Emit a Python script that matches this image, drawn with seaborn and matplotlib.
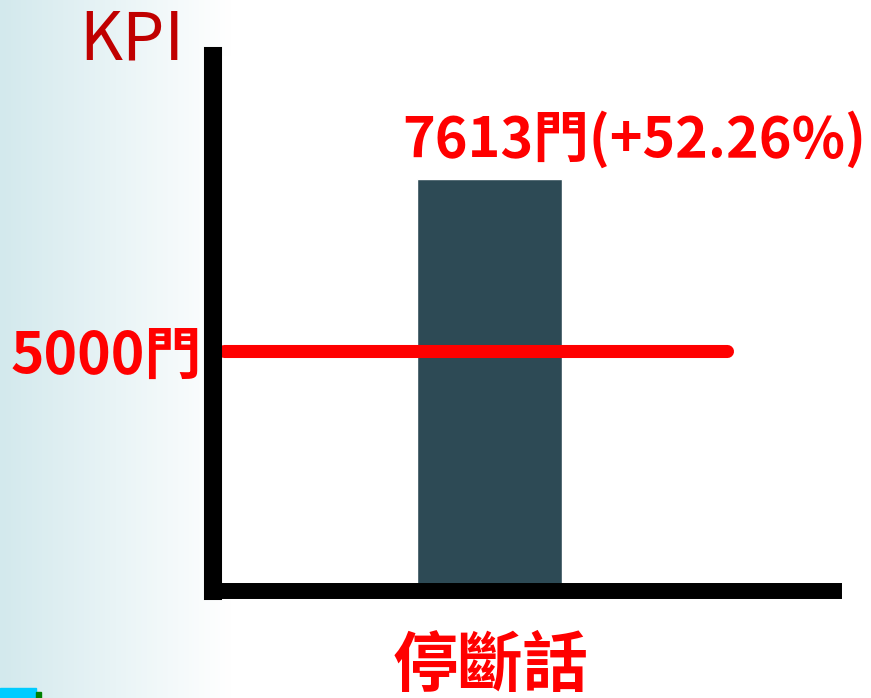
import numpy as np
import pandas as pd
import matplotlib.pyplot as plt
import seaborn as sns
from matplotlib.patches import Rectangle
from matplotlib.colors import to_rgb

# Data
categories = ["停斷話"]
values = [7613]
target = 5000
target_label = "5000門"
bar_label = "7613門(+52.26%)"
y_title = "KPI"

df = pd.DataFrame({"cat": categories, "val": values})

sns.set_theme(style="white")
plt.rcParams["font.family"] = ["Noto Sans CJK TC", "DejaVu Sans"]

W, H = 871, 698
fig = plt.figure(figsize=(W / 100, H / 100), dpi=100)

# background gradient (light blue on the left fading to white)
bg = fig.add_axes([0, 0, 1, 1], zorder=-10)
c0 = np.array(to_rgb("#d3e9ed"))
t = np.clip(np.arange(W) / 230.0, 0, 1)[None, :, None]
grad = c0 * (1 - t) + np.ones(3) * t
bg.imshow(np.repeat(grad, 2, axis=0), aspect="auto", extent=[0, 1, 0, 1])
bg.axis("off")
bg.add_patch(Rectangle((0, 0), 36 / W, 10 / H, color="#00ccff", transform=fig.transFigure))
bg.add_patch(Rectangle((36 / W, 0), 5 / W, 6 / H, color="#008000", transform=fig.transFigure))

# main axes, placed in pixels
left, right, bottom, top = 213, 834, 591, 56
ax = fig.add_axes([left / W, 1 - bottom / H, (right - left) / W, (bottom - top) / H])
ax.set_facecolor("white")

sns.barplot(data=df, x="cat", y="val", color="#2d4a55", width=0.8, saturation=1, ax=ax, zorder=1)

ax.set_ylim(1350, 9480)
ax.set_xlim(-1.528, 1.898)

ax.hlines(target, -1.465, 1.305, color="#ff0000", linewidth=9.4, capstyle="round", zorder=3)

for s in ["top", "right"]:
    ax.spines[s].set_visible(False)
ax.spines["left"].set_linewidth(13)
ax.spines["bottom"].set_linewidth(11.5)
for s in ["left", "bottom"]:
    ax.spines[s].set_color("black")
    ax.spines[s].set_capstyle("projecting")
    ax.spines[s].set_zorder(4)

ax.set_yticks([target])
ax.set_yticklabels([target_label], color="#ff0000", fontsize=41, fontweight="bold")
ax.set_xticks([0])
ax.set_xticklabels(categories, color="#ff0000", fontsize=47, fontweight="bold")
ax.tick_params(axis="y", length=0, pad=8)
ax.tick_params(axis="x", length=0, pad=30)
ax.set_xlabel("")
ax.set_ylabel("")

ax.annotate(bar_label, xy=(0, values[0]), xytext=(144, 39), textcoords="offset pixels",
            ha="center", va="center", color="#ff0000", fontsize=40, fontweight="bold",
            annotation_clip=False)

fig.text(132 / W, 1 - 41 / H, y_title, ha="center", va="center", color="#c00000", fontsize=48)

fig.savefig("out.png", dpi=100)
